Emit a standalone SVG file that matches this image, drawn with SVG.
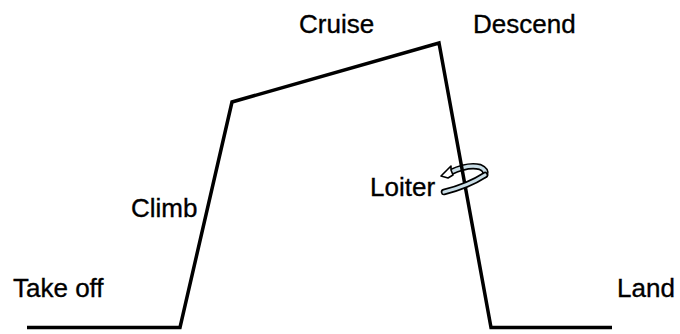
<svg xmlns="http://www.w3.org/2000/svg" width="680" height="334" viewBox="0 0 680 334">
<style>
.lbl{font-family:"Liberation Sans",Arial,sans-serif;font-size:26px;fill:#000;stroke:#000;stroke-width:0.35}
.path{fill:none;stroke:#000;stroke-width:3.5;stroke-linejoin:miter}
</style>
<rect width="680" height="334" fill="#fff"/>
<g id="loiter-arrow-back">
<path d="M451,172 Q468,164 480,167 Q487,170 485,175" fill="none" stroke="#000" stroke-width="6.5" stroke-linecap="round"/>
<path d="M451,172 Q468,164 480,167 Q487,170 485,175" fill="none" stroke="#c9dde6" stroke-width="3.2" stroke-linecap="round"/>
<polygon points="441,176 451,166 451,170 453,175 448,178" fill="#fff" stroke="#000" stroke-width="1.6" stroke-linejoin="round"/>
</g>
<g id="connectors">
<polyline class="path" points="27,327.5 180,327.5 232,102 439,43 491,327.5 612,327.5"/>
</g>
<g id="loiter-arrow-front">
<path d="M485,175 Q468,186 444,192" fill="none" stroke="#000" stroke-width="6.5" stroke-linecap="round"/>
<path d="M485,175 Q468,186 444,192" fill="none" stroke="#c9dde6" stroke-width="3.2" stroke-linecap="round"/>
</g>
<g id="takeoff"><text class="lbl" x="13" y="297">Take off</text></g>
<g id="climb"><text class="lbl" x="131" y="217">Climb</text></g>
<g id="cruise"><text class="lbl" x="299" y="33">Cruise</text></g>
<g id="descend"><text class="lbl" x="473" y="33">Descend</text></g>
<g id="loiter"><text class="lbl" x="370" y="196">Loiter</text></g>
<g id="land"><text class="lbl" x="617" y="297">Land</text></g>
</svg>
